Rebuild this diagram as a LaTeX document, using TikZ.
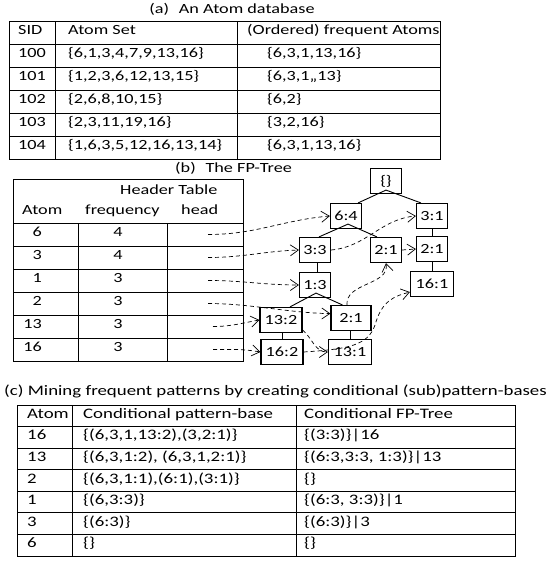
\documentclass[tikz,border=0pt]{standalone}
\usepackage{fontspec}
\setmainfont{Carlito}[FakeStretch=1.3]
\usetikzlibrary{arrows.meta,calc}
\begin{document}
\begin{tikzpicture}[x=1pt,y=-1pt,
  font=\fontsize{14}{16}\selectfont,
  tbl/.style={line width=0.8pt},
  lt/.style={inner sep=0pt, anchor=mid west},
  ct/.style={inner sep=0pt, anchor=mid},
  rt/.style={inner sep=0pt, anchor=mid east},
  ctext/.style={lt, font=\fontsize{14.5}{16}\selectfont},
  tnode/.style={draw, line width=1.2pt, inner sep=0pt, minimum width=31pt, minimum height=25pt},
  wnode/.style={tnode, minimum width=42pt},
  tedge/.style={line width=0.9pt},
  dlink/.style={line width=0.7pt, dash pattern=on 4pt off 3pt, -{Straight Barb[length=8pt,width=11pt]}}]
\useasboundingbox (0,0) rectangle (551,562);

% ---------- (a) ----------
\node[ct] (ta) at (232,11) {(a)\hspace{0.7em}An Atom database};
\draw[tbl] (9,21) rectangle (440,159);
\foreach \y in {44,67,90,113,136} \draw[tbl] (9,\y) -- (440,\y);
\draw[tbl] (55,21) -- (55,159);
\draw[tbl] (237,21) -- (237,159);
\node[lt] (a0) at (18,32.5) {SID};
\node[lt] (a1) at (68,32.5) {Atom Set};
\node[lt] (a2) at (247,32.5) {(Ordered) frequent Atoms};
\node[lt] (r1a) at (18,55.5) {100};
\node[lt] (r1b) at (68,55.5) {\{6,1,3,4,7,9,13,16\}};
\node[lt] (r1c) at (267,55.5) {\{6,3,1,13,16\}};
\node[lt] (r2a) at (18,78.5) {101};
\node[lt] (r2b) at (68,78.5) {\{1,2,3,6,12,13,15\}};
\node[lt] (r2c) at (267,78.5) {\{6,3,1,,13\}};
\node[lt] (r3a) at (18,101.5) {102};
\node[lt] (r3b) at (68,101.5) {\{2,6,8,10,15\}};
\node[lt] (r3c) at (267,101.5) {\{6,2\}};
\node[lt] (r4a) at (18,124.5) {103};
\node[lt] (r4b) at (68,124.5) {\{2,3,11,19,16\}};
\node[lt] (r4c) at (267,124.5) {\{3,2,16\}};
\node[lt] (r5a) at (18,147.5) {104};
\node[lt] (r5b) at (68,147.5) {\{1,6,3,5,12,16,13,14\}};
\node[lt] (r5c) at (267,147.5) {\{6,3,1,13,16\}};

% ---------- (b) header table ----------
\node[lt] (tb) at (175,170) {(b)\hspace{0.7em}The FP-Tree};
\draw[tbl] (13,179) rectangle (243,361);
\foreach \y in {223,246,269,292,315,338} \draw[tbl] (13,\y) -- (243,\y);
\draw[tbl] (78,223) -- (78,361);
\draw[tbl] (167,223) -- (167,361);
\node[lt] (hh) at (120,192) {Header Table};
\node[lt] (hc1) at (22,212) {Atom};
\node[lt] (hc2) at (85,212) {frequency};
\node[lt] (hc3) at (181,212) {head};
\node[rt] (ha1) at (42,234.5) {6};
\node[ct] (hf1) at (118,234.5) {4};
\node[rt] (ha2) at (42,257.5) {3};
\node[ct] (hf2) at (118,257.5) {4};
\node[rt] (ha3) at (42,280.5) {1};
\node[ct] (hf3) at (118,280.5) {3};
\node[rt] (ha4) at (42,303.5) {2};
\node[ct] (hf4) at (118,303.5) {3};
\node[rt] (ha5) at (42,326.5) {13};
\node[ct] (hf5) at (118,326.5) {3};
\node[rt] (ha6) at (42,349.5) {16};
\node[ct] (hf6) at (118,349.5) {3};
\coordinate (h6) at (208,234.5);
\coordinate (h3) at (208,257.5);
\coordinate (h1) at (208,280.5);
\coordinate (h2) at (208,303.5);
\coordinate (h13) at (213,326.5);
\coordinate (h16) at (213,349.5);

% ---------- (b) FP-tree ----------
\node[tnode] (root) at (386,181) {\{\}};
\node[tnode] (n64) at (346,216) {6:4};
\node[tnode] (n31) at (432,216) {3:1};
\node[tnode] (n33) at (315,250) {3:3};
\node[tnode] (n21m) at (386,250) {2:1};
\node[tnode] (n21r) at (432,249) {2:1};
\node[tnode] (n13) at (315,285) {1:3};
\node[wnode, minimum width=43pt] (n161) at (432,284) {16:1};
\node[wnode] (n132) at (281,320) {13:2};
\node[wnode, minimum width=40pt] (n21l) at (351,318) {2:1};
\node[wnode] (n162) at (282,352) {16:2};
\node[wnode, minimum width=43pt] (n131) at (350,352) {13:1};

\draw[tedge] ($(n64.north east)+(-4,0)$) -- ($(root.south)+(0,-4)$) -- ($(n31.north west)+(5,0)$);
\draw[tedge] ($(n33.north)+(4,0)$) -- ($(n64.south)+(2,-5)$) -- ($(n21m.north west)+(7,0)$);
\draw[tedge] ($(n33.south)+(2,0)$) -- ($(n13.north)+(2,0)$);
\draw[tedge] (n31.south) -- (n21r.north);
\draw[tedge] (n21r.south) -- (n161.north);
\draw[tedge] ($(n132.north)+(9,0)$) -- ($(n13.south)+(1,-5)$) -- ($(n21l.north west)+(12,0)$);
\draw[tedge] ($(n132.south)+(1,0)$) -- (n162.north);
\draw[tedge] ($(n21l.south)+(-1,0)$) -- (n131.north);

% ---------- dashed links ----------
\draw[dlink] (h6) to[out=0,in=185] (n64.west);
\draw[dlink] (h3) to[out=0,in=182] (n33.west);
\draw[dlink] (h1) to[out=0,in=180] (n13.west);
\draw[dlink] (h2) .. controls (250,303.5) and (290,313) .. (n21l.168);
\draw[dlink] (h13) to[out=0,in=190] (n132.west);
\draw[dlink] (h16) to[out=0,in=170] (n162.west);
\draw[dlink] (n33.east) to[out=5,in=185] (n31.west);
\draw[dlink] (n21m.east) -- (n21r.west);
\draw[dlink] ($(n21l.north)+(-4,0)$) to[out=95,in=-80] (n21m.south);
\draw[dlink] (n132.-25) to[out=-40,in=180] (n131.west);
\draw[dlink] (n162.east) .. controls (350,349) and (368,345) .. (375,325) .. controls (382,300) and (395,296) .. (n161.200);

% ---------- (c) ----------
\node[ct, font=\fontsize{14.5}{16}\selectfont] (tc) at (275.5,393) {(c) Mining frequent patterns by creating conditional (sub)pattern-bases};
\draw[tbl] (17,405) rectangle (515,556);
\foreach \k in {1,...,6} \draw[tbl] (17,405+21.57*\k) -- (515,405+21.57*\k);
\draw[tbl] (72,405) -- (72,556);
\draw[tbl] (296,405) -- (296,556);
\node[ctext] (c0a) at (27,416) {Atom};
\node[ctext] (c0b) at (83,416) {Conditional pattern-base};
\node[ctext] (c0c) at (304,416) {Conditional FP-Tree};
\node[ctext] (c1a) at (27,437.6) {16};
\node[ctext] (c1b) at (83,437.6) {\{(6,3,1,13:2),(3,2:1)\}};
\node[ctext] (c1c) at (304,437.6) {\{(3:3)\}|16};
\node[ctext] (c2a) at (27,459.1) {13};
\node[ctext] (c2b) at (83,459.1) {\{(6,3,1:2), (6,3,1,2:1)\}};
\node[ctext] (c2c) at (304,459.1) {\{(6:3,3:3, 1:3)\}|13};
\node[ctext] (c3a) at (27,480.7) {2};
\node[ctext] (c3b) at (83,480.7) {\{(6,3,1:1),(6:1),(3:1)\}};
\node[ctext] (c3c) at (304,480.7) {\{\}};
\node[ctext] (c4a) at (27,502.3) {1};
\node[ctext] (c4b) at (83,502.3) {\{(6,3:3)\}};
\node[ctext] (c4c) at (304,502.3) {\{(6:3, 3:3)\}|1};
\node[ctext] (c5a) at (27,523.9) {3};
\node[ctext] (c5b) at (83,523.9) {\{(6:3)\}};
\node[ctext] (c5c) at (304,523.9) {\{(6:3)\}|3};
\node[ctext] (c6a) at (27,545.4) {6};
\node[ctext] (c6b) at (83,545.4) {\{\}};
\node[ctext] (c6c) at (304,545.4) {\{\}};
\end{tikzpicture}
\end{document}
